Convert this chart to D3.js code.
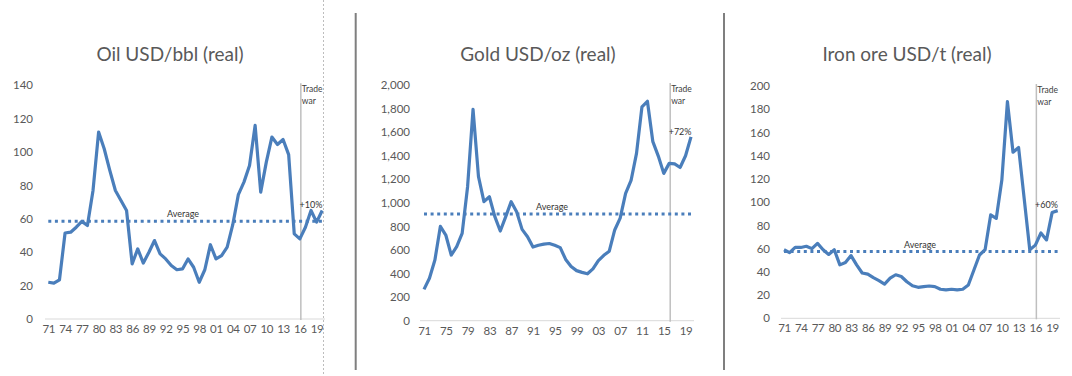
<!DOCTYPE html>
<html><head><meta charset="utf-8">
<script src="https://cdn.jsdelivr.net/npm/d3@7"></script>
<style>
body{margin:0;background:#fff}
svg{display:block}
text{font-family:Lato,"Open Sans",sans-serif}
</style>
</head><body>
<svg id="chart" width="1072" height="376"></svg>
<script>
const years = [1971,1972,1973,1974,1975,1976,1977,1978,1979,1980,1981,1982,1983,1984,1985,1986,1987,1988,1989,1990,
  1991,1992,1993,1994,1995,1996,1997,1998,1999,2000,2001,2002,2003,2004,2005,2006,2007,2008,2009,2010,
  2011,2012,2013,2014,2015,2016,2017,2018,2019,2020];

const oilValues = [22,21.5,23.5,51.5,52,55,58.5,56,77,112,102,89,77,71,65,33,42,33.5,40,47,
  39,36,32,29.5,30,36,31,22,29.5,44.5,36,38,43,56.5,74.5,82,92,116,76,94,
  109,104.5,107.5,98.5,51,48,55,65,58,65];

const goldValues = [266,360,515,800,727,557,628,741,1137,1793,1222,1010,1052,883,761,883,1010,925,775,713,
  625,640,650,655,640,620,520,460,425,410,398,440,510,555,590,770,870,1080,1190,1420,
  1815,1862,1519,1397,1250,1335,1330,1300,1400,1560];

const ironValues = [59,56.5,61,61,62,60,64.5,59,55,59,46,48,54,46,39,38,35,32.5,29.5,34.5,
  37.5,36,31.5,28,26.7,27.3,27.8,27.3,25,24.4,25,24.4,25,28.7,41.6,54.5,59,89,86,119,
  186.5,143,147,103,59,63,73.5,67.5,91,92.7];

const oilTicks = [0,20,40,60,80,100,120,140];
const goldTicks = [0,200,400,600,800,1000,1200,1400,1600,1800,2000];
const ironTicks = [0,20,40,60,80,100,120,140,160,180,200];

const oilXLabels = ["71","74","77","80","83","86","89","92","95","98","01","04","07","10","13","16","19"];
const goldXLabels = ["71","75","79","83","87","91","95","99","03","07","11","15","19"];
const ironXLabels = ["71","74","77","80","83","86","89","92","95","98","01","04","07","10","13","16","19"];

const titles = ["Oil USD/bbl (real)","Gold USD/oz (real)","Iron ore USD/t (real)"];
const averages = [58.5, 905, 57.5];
const changeLabels = ["+10%","+72%","+60%"];
const averageLabel = "Average";
const tradeWarLabel = ["Trade","war"];
const tradeWarYear = 2016;

const panels = [
  {title:titles[0], values:oilValues, ticks:oilTicks, xLabels:oilXLabels, avg:averages[0], change:changeLabels[0],
   x0:48.3, x1:322.2, yBase:319, yTop:85.3, axisL:45, axisR:325, labelR:33, titleX:170,
   avgLabelX:183, avgLabelY:217, changeY:208, fmt:d3.format("d")},
  {title:titles[1], values:goldValues, ticks:goldTicks, xLabels:goldXLabels, avg:averages[1], change:changeLabels[1],
   x0:424, x1:691, yBase:320.7, yTop:85, axisL:420, axisR:694, labelR:410, titleX:538,
   avgLabelX:552, avgLabelY:210, changeY:135, fmt:d3.format(",")},
  {title:titles[2], values:ironValues, ticks:ironTicks, xLabels:ironXLabels, avg:averages[2], change:changeLabels[2],
   x0:784, x1:1057.7, yBase:318.3, yTop:86, axisL:781, axisR:1060, labelR:770, titleX:907,
   avgLabelX:920, avgLabelY:248, changeY:208, fmt:d3.format("d")}
];

const svg = d3.select("#chart");
const blue = "#4A7EBB";
const txt = "#595959";

// panel separators
[355.7, 724].forEach(x => {
  svg.append("line").attr("x1",x).attr("x2",x).attr("y1",13).attr("y2",370)
    .attr("stroke","#7f7f7f").attr("stroke-width",2);
});
// dotted border artifact
svg.append("line").attr("x1",323.5).attr("x2",323.5).attr("y1",0).attr("y2",376)
  .attr("stroke","#bdbdbd").attr("stroke-width",1).attr("stroke-dasharray","2,2");

panels.forEach(p => {
  const x = d3.scalePoint().domain(years).range([p.x0, p.x1]);
  const yMax = p.ticks[p.ticks.length-1];
  const y = d3.scaleLinear().domain([0, yMax]).range([p.yBase, p.yTop]);
  const g = svg.append("g");

  // title
  g.append("text").attr("x", p.titleX).attr("y", 61).attr("text-anchor","middle")
    .attr("font-size", 19).attr("fill", txt).text(p.title);

  // y axis
  const yAxis = d3.axisLeft(y).tickValues(p.ticks).tickSize(0).tickPadding(0).tickFormat(p.fmt);
  const ya = g.append("g").attr("transform", `translate(${p.labelR},0)`).call(yAxis);
  ya.select(".domain").remove();
  ya.selectAll("text").attr("font-size", 11.5).attr("fill", txt).attr("font-family","Lato");

  // x axis
  const labelYears = p.xLabels.map(l => { const n = +l; return n > 50 ? 1900 + n : 2000 + n; });
  const labelMap = new Map(labelYears.map((yr,i) => [yr, p.xLabels[i]]));
  const xAxis = d3.axisBottom(x).tickValues(labelYears).tickSize(0).tickPadding(6)
    .tickFormat(d => labelMap.get(d));
  const xa = g.append("g").attr("transform", `translate(0,${p.yBase})`).call(xAxis);
  xa.select(".domain").remove();
  xa.selectAll("text").attr("font-size", 11.5).attr("letter-spacing", -0.3).attr("fill", txt).attr("font-family","Lato");
  g.append("line").attr("x1", p.axisL).attr("x2", p.axisR).attr("y1", p.yBase).attr("y2", p.yBase)
    .attr("stroke", "#d9d9d9").attr("stroke-width", 1);

  // trade war line
  const tx = x(tradeWarYear) + 1;
  g.append("line").attr("x1", tx).attr("x2", tx).attr("y1", p.yTop - 2).attr("y2", p.yBase + 1)
    .attr("stroke", "#bfbfbf").attr("stroke-width", 1.5);
  tradeWarLabel.forEach((t,i) => {
    g.append("text").attr("x", tx + 1).attr("y", p.yTop + 7 + i*12).attr("font-size", 8.5)
      .attr("fill", "#404040").text(t);
  });

  // average line
  g.append("line").attr("x1", p.x0).attr("x2", p.x1).attr("y1", y(p.avg)).attr("y2", y(p.avg))
    .attr("stroke", blue).attr("stroke-width", 3).attr("stroke-dasharray", "3,3.6");
  g.append("text").attr("x", p.avgLabelX).attr("y", p.avgLabelY).attr("text-anchor","middle")
    .attr("font-size", 9).attr("fill", "#333").text(averageLabel);

  // data line
  const line = d3.line().x((d,i) => x(years[i])).y(d => y(d));
  g.append("path").datum(p.values).attr("d", line).attr("fill","none")
    .attr("stroke", blue).attr("stroke-width", 3.2).attr("stroke-linejoin","round");

  // change label
  g.append("text").attr("x", x(2018)).attr("y", p.changeY).attr("text-anchor","middle")
    .attr("font-size", 9).attr("fill", "#333").text(p.change);
});
</script>
</body></html>
